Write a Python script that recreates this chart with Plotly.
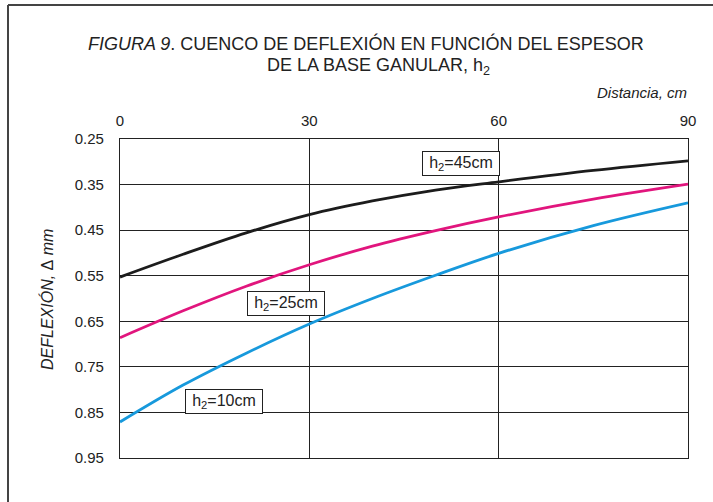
import plotly.graph_objects as go

distancia = [0, 10, 20, 30, 40, 50, 60, 75, 90]
h45 = [0.553, 0.503, 0.456, 0.416, 0.386, 0.362, 0.344, 0.319, 0.298]
h25 = [0.686, 0.627, 0.573, 0.526, 0.485, 0.451, 0.421, 0.382, 0.349]
h10 = [0.871, 0.790, 0.720, 0.656, 0.600, 0.549, 0.501, 0.440, 0.390]

series = [
    ("h2=45cm", h45, "#1c1c1c"),
    ("h2=25cm", h25, "#e1157d"),
    ("h2=10cm", h10, "#1799dc"),
]
labels = [
    ("h<sub>2</sub>=45cm", 54.0, 0.303),
    ("h<sub>2</sub>=25cm", 26.3, 0.612),
    ("h<sub>2</sub>=10cm", 16.5, 0.827),
]
x_ticks = [0, 30, 60, 90]
y_ticks = [0.25, 0.35, 0.45, 0.55, 0.65, 0.75, 0.85, 0.95]

FONT = "Liberation Sans, Arial, sans-serif"

fig = go.Figure()
for name, vals, col in series:
    fig.add_trace(go.Scatter(x=distancia, y=vals, mode="lines", name=name,
                             line=dict(color=col, width=2.8, shape="spline", smoothing=1.0)))

for txt, x, y in labels:
    fig.add_annotation(x=x, y=y, xref="x", yref="y", text=txt, showarrow=False,
                       font=dict(size=16, color="#222", family=FONT), width=70, height=17,
                       bgcolor="white", bordercolor="#222", borderwidth=1, borderpad=3)

L, R, T, B = 120, 25, 139, 44
W, H = 713, 502
pw, ph = W - L - R, H - T - B
def px(x):
    return (x - L) / pw
def py(y):
    return (H - B - y) / ph

fig.add_annotation(x=px(366), y=py(43), xref="paper", yref="paper", showarrow=False,
                   text="<i>FIGURA 9</i>. CUENCO DE DEFLEXIÓN EN FUNCIÓN DEL ESPESOR",
                   font=dict(size=18, color="#222", family=FONT), xanchor="center", yanchor="middle")
fig.add_annotation(x=px(378), y=py(66), xref="paper", yref="paper", showarrow=False,
                   text="DE LA BASE GANULAR, h<sub>2</sub>",
                   font=dict(size=18, color="#222", family=FONT), xanchor="center", yanchor="middle")
fig.add_annotation(x=px(689), y=py(93), xref="paper", yref="paper", showarrow=False,
                   text="<i>Distancia, cm</i>",
                   font=dict(size=15, color="#222", family=FONT), xanchor="right", yanchor="middle")
fig.add_annotation(x=px(47), y=py(300), xref="paper", yref="paper", showarrow=False,
                   text="<i>DEFLEXIÓN, </i>Δ<i> mm</i>", textangle=-90,
                   font=dict(size=16, color="#222", family=FONT), xanchor="center", yanchor="middle")

# outer frame (left and top)
fig.add_shape(type="line", xref="paper", yref="paper", x0=px(8), x1=px(8), y0=py(5), y1=py(502),
              line=dict(color="#444", width=2))
fig.add_shape(type="line", xref="paper", yref="paper", x0=px(8), x1=px(713), y0=py(5), y1=py(5),
              line=dict(color="#444", width=2))

fig.update_layout(
    width=W, height=H, margin=dict(l=L, r=R, t=T, b=B),
    paper_bgcolor="white", plot_bgcolor="white", showlegend=False,
    font=dict(family=FONT, color="#222", size=15),
)
fig.update_xaxes(range=[0, 90], side="top", tickvals=x_ticks, showgrid=True, gridcolor="#222",
                 gridwidth=1, showline=True, linecolor="#222", linewidth=1.2, mirror=True,
                 zeroline=False, ticks="", ticklabelstandoff=6, tickfont=dict(size=15))
fig.update_yaxes(range=[0.95, 0.25], tickvals=y_ticks, ticktext=[f"{v:.2f}" for v in y_ticks],
                 showgrid=True, gridcolor="#222", gridwidth=1, showline=True, linecolor="#222",
                 linewidth=1.2, mirror=True, zeroline=False, ticks="", ticklabelstandoff=12,
                 tickfont=dict(size=15))

fig.write_html("out.html")
